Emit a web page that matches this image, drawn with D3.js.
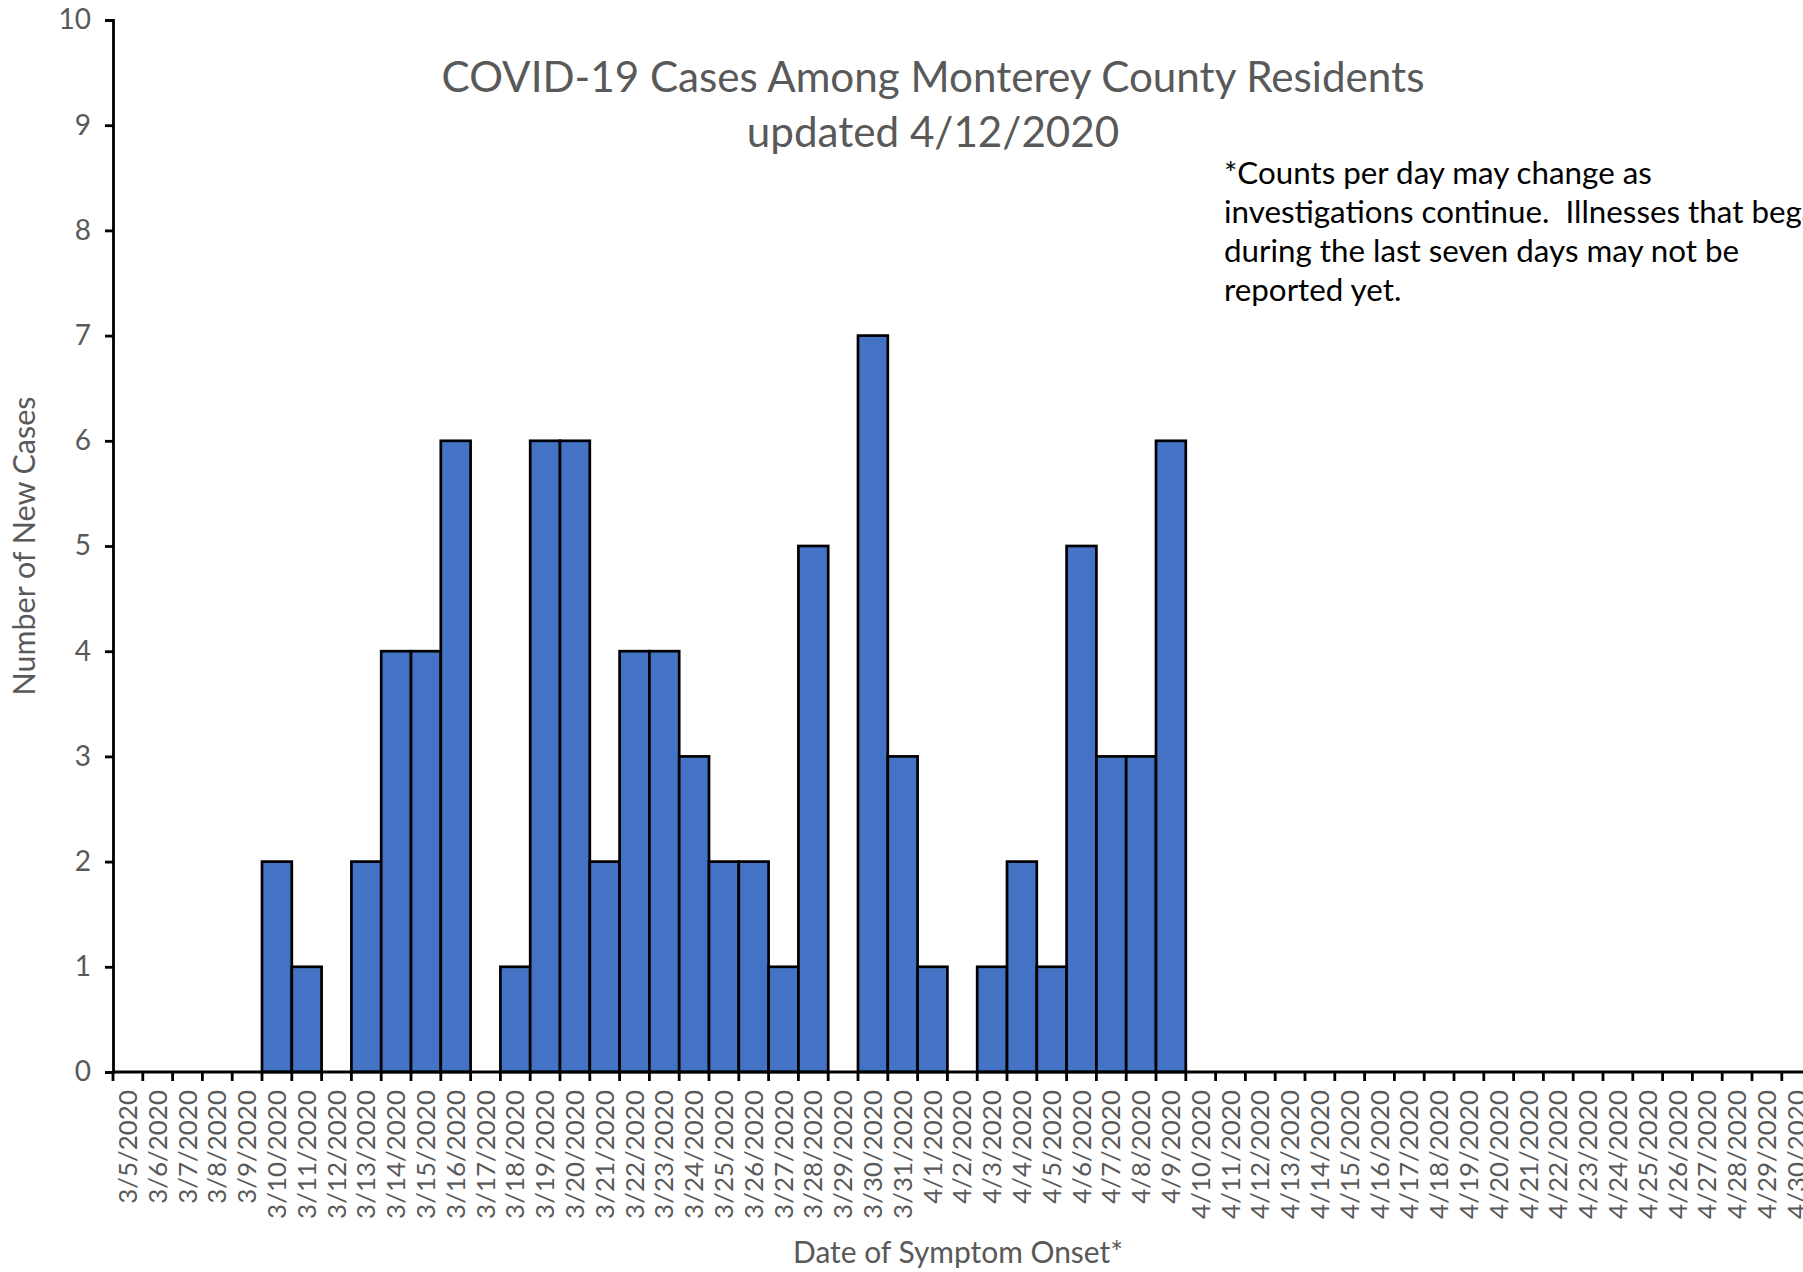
<!DOCTYPE html>
<html>
<head>
<meta charset="utf-8">
<script src="https://cdn.jsdelivr.net/npm/d3@7"></script>
<style>
  body { margin: 0; background: #fff; }
  svg { display: block; }
  text { font-family: Lato, "Open Sans", sans-serif; }
</style>
</head>
<body>
<div class="canva"></div>
<script>
var width = 1803;
var height = 1272;

// dates of symptom onset, 3/5 .. 4/30
const dates = [
  '3/5/2020','3/6/2020','3/7/2020','3/8/2020','3/9/2020','3/10/2020','3/11/2020','3/12/2020',
  '3/13/2020','3/14/2020','3/15/2020','3/16/2020','3/17/2020','3/18/2020','3/19/2020','3/20/2020',
  '3/21/2020','3/22/2020','3/23/2020','3/24/2020','3/25/2020','3/26/2020','3/27/2020','3/28/2020',
  '3/29/2020','3/30/2020','3/31/2020','4/1/2020','4/2/2020','4/3/2020','4/4/2020','4/5/2020',
  '4/6/2020','4/7/2020','4/8/2020','4/9/2020','4/10/2020','4/11/2020','4/12/2020','4/13/2020',
  '4/14/2020','4/15/2020','4/16/2020','4/17/2020','4/18/2020','4/19/2020','4/20/2020','4/21/2020',
  '4/22/2020','4/23/2020','4/24/2020','4/25/2020','4/26/2020','4/27/2020','4/28/2020','4/29/2020',
  '4/30/2020'
];
const cases = [
  0,0,0,0,0,2,1,0,
  2,4,4,6,0,1,6,6,
  2,4,4,3,2,2,1,5,
  0,7,3,1,0,1,2,1,
  5,3,3,6,0,0,0,0,
  0,0,0,0,0,0,0,0,
  0,0,0,0,0,0,0,0,
  0
];
const yTicks = [0,1,2,3,4,5,6,7,8,9,10];

const titleLines = ['COVID-19 Cases Among Monterey County Residents', 'updated 4/12/2020'];
const noteLines = [
  '*Counts per day may change as',
  'investigations continue.  Illnesses that began',
  'during the last seven days may not be',
  'reported yet.'
];

const plotLeft = 113, plotTop = 20, plotBottom = 1072;
const slot = 29.8;

const svg = d3.select('.canva').append('svg')
  .attr('width', width)
  .attr('height', height);

const x = d3.scaleBand()
  .domain(dates)
  .range([plotLeft, plotLeft + slot * dates.length])
  .padding(0);

const y = d3.scaleLinear()
  .domain([0, 10])
  .range([plotBottom, plotTop]);

// shrink/grow a text node so it spans a target width
function fitText(sel, target) {
  const w = sel.node().getComputedTextLength();
  const fs = parseFloat(sel.attr('font-size'));
  sel.attr('font-size', fs * target / w);
}

// bars
svg.selectAll('rect.bar')
  .data(cases.map((c, i) => ({ d: dates[i], c: c })).filter(o => o.c > 0))
  .enter().append('rect')
  .attr('class', 'bar')
  .attr('x', o => x(o.d))
  .attr('y', o => y(o.c))
  .attr('width', x.bandwidth())
  .attr('height', o => y(0) - y(o.c))
  .attr('fill', '#4472C4')
  .attr('stroke', '#000')
  .attr('stroke-width', 2.7);

// y axis
const yAxis = svg.append('g')
  .attr('transform', `translate(${plotLeft},0)`)
  .call(d3.axisLeft(y).tickValues(yTicks).tickSize(8).tickPadding(14).tickFormat(d3.format('d')));
yAxis.select('.domain').attr('stroke', '#000').attr('stroke-width', 2.8);
yAxis.selectAll('.tick line').attr('stroke', '#000').attr('stroke-width', 2.8);
yAxis.selectAll('.tick text')
  .attr('fill', '#595959')
  .attr('font-size', 28)
  .attr('font-family', 'Lato, sans-serif');

// x axis: ticks on slot boundaries, labels centred in slots
const xg = svg.append('g');
xg.append('line')
  .attr('x1', plotLeft).attr('x2', x.range()[1])
  .attr('y1', plotBottom).attr('y2', plotBottom)
  .attr('stroke', '#000').attr('stroke-width', 2.8);
xg.selectAll('line.tk')
  .data(dates.concat(['end']))
  .enter().append('line')
  .attr('class', 'tk')
  .attr('x1', (d, i) => plotLeft + i * x.step())
  .attr('x2', (d, i) => plotLeft + i * x.step())
  .attr('y1', plotBottom).attr('y2', plotBottom + 9)
  .attr('stroke', '#000').attr('stroke-width', 2.8);

const xl = xg.selectAll('text.xl')
  .data(dates)
  .enter().append('text')
  .attr('class', 'xl')
  .attr('transform', d => `translate(${x(d) + x.bandwidth() / 2 + 9},${plotBottom + 18}) rotate(-90)`)
  .attr('text-anchor', 'end')
  .attr('fill', '#595959')
  .attr('font-size', 27)
  .text(d => d);
// size labels from a reference one
const ref = xl.filter(d => d === '3/10/2020');
const w0 = ref.node().getComputedTextLength();
xl.attr('font-size', 27 * 129 / w0);

// axis titles
const yt = svg.append('text')
  .attr('transform', `translate(35,${(plotTop + plotBottom) / 2}) rotate(-90)`)
  .attr('text-anchor', 'middle')
  .attr('fill', '#595959')
  .attr('font-size', 28)
  .text('Number of New Cases');
fitText(yt, 299);

const xt = svg.append('text')
  .attr('x', 958).attr('y', 1263)
  .attr('text-anchor', 'middle')
  .attr('fill', '#595959')
  .attr('font-size', 28)
  .text('Date of Symptom Onset*');
fitText(xt, 330);

// chart title
const t1 = svg.append('text')
  .attr('x', 933).attr('y', 92)
  .attr('text-anchor', 'middle')
  .attr('fill', '#595959')
  .attr('font-size', 44)
  .text(titleLines[0]);
fitText(t1, 983);
const t2 = svg.append('text')
  .attr('x', 933).attr('y', 147)
  .attr('text-anchor', 'middle')
  .attr('fill', '#595959')
  .attr('font-size', parseFloat(t1.attr('font-size')))
  .text(titleLines[1]);

// footnote (runs off the right edge, as in the source image)
const note = svg.append('g');
const n0 = note.append('text')
  .attr('x', 1224).attr('y', 184)
  .attr('fill', '#000')
  .attr('font-size', 28)
  .text(noteLines[0]);
fitText(n0, 428);
const nfs = parseFloat(n0.attr('font-size'));
noteLines.slice(1).forEach((line, i) => {
  note.append('text')
    .attr('x', 1224).attr('y', 184 + (i + 1) * 39)
    .attr('fill', '#000')
    .attr('font-size', nfs)
    .style('white-space', 'pre')
    .text(line);
});
</script>
</body>
</html>
